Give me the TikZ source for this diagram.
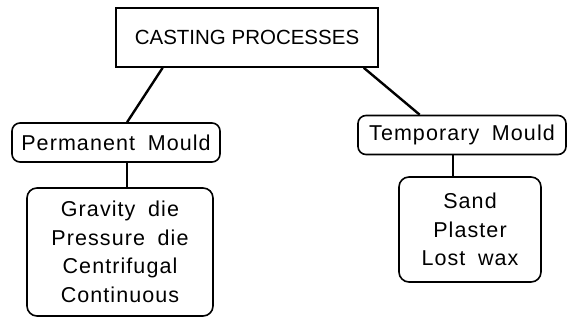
\documentclass[tikz,border=0pt]{standalone}
\usepackage{fontspec}
\setmainfont{Liberation Sans}
\newfontfamily\spaced[LetterSpace=5,WordSpace=1.8]{Liberation Sans}
\usetikzlibrary{calc}
\begin{document}
\begin{tikzpicture}[x=1pt,y=1pt,
  titlebox/.style={draw,line width=1.6pt,inner sep=0pt,minimum width=262pt,minimum height=59pt,font=\fontsize{20.5}{24}\selectfont},
  mouldbox/.style={draw,line width=1.6pt,rounded corners=8pt,inner sep=0pt,minimum height=39pt,font=\spaced\fontsize{21.5}{28.3}\selectfont},
  listbox/.style={draw,line width=1.6pt,rounded corners=10pt,inner sep=0pt,align=center,font=\spaced\fontsize{21.5}{28.5}\selectfont},
  conn/.style={line width=2.4pt}]
\useasboundingbox (0,0) rectangle (567,320);
\node[titlebox] (top) at (247,282.5) {CASTING PROCESSES};
\node[mouldbox,minimum width=208pt] (perm) at (116,177.5) {Permanent Mould};
\node[mouldbox,minimum width=208pt] (temp) at (462,185) {Temporary Mould};
\node[listbox,minimum width=186pt,minimum height=128pt] (plist) at (120,68) {Gravity die\\Pressure die\\Centrifugal\\Continuous};
\node[listbox,minimum width=142pt,minimum height=105pt] (tlist) at (470,90.5) {Sand\\Plaster\\Lost wax};
\coordinate (pb) at ($(perm.south west)!0.553!(perm.south east)$);
\coordinate (tb) at ($(temp.south west)!0.457!(temp.south east)$);
\draw[conn] ($(top.south west)!0.18!(top.south east)$) -- ($(perm.north west)!0.553!(perm.north east)$);
\draw[conn] ($(top.south west)!0.943!(top.south east)$) -- ($(temp.north west)!0.298!(temp.north east)$);
\draw[conn] (pb) -- (pb |- plist.north);
\draw[conn] (tb) -- (tb |- tlist.north);
\end{tikzpicture}
\end{document}
